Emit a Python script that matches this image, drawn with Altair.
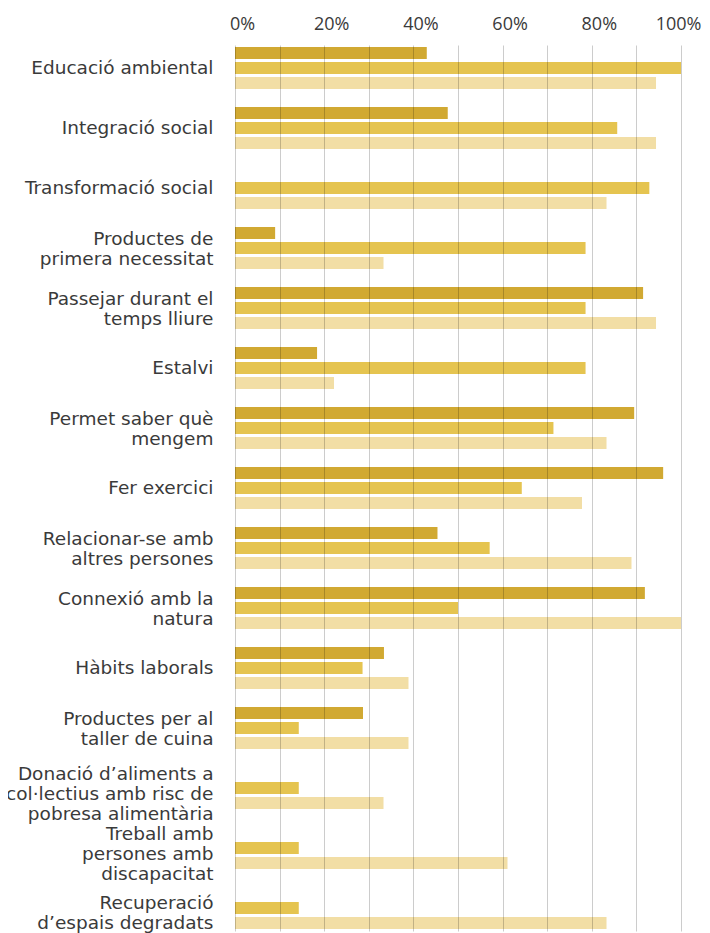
import altair as alt
import pandas as pd

categories = [
    "Educació ambiental",
    "Integració social",
    "Transformació social",
    "Productes de|primera necessitat",
    "Passejar durant el|temps lliure",
    "Estalvi",
    "Permet saber què|mengem",
    "Fer exercici",
    "Relacionar-se amb|altres persones",
    "Connexió amb la|natura",
    "Hàbits laborals",
    "Productes per al|taller de cuina",
    "Donació d’aliments a|col·lectius amb risc de|pobresa alimentària",
    "Treball amb|persones amb|discapacitat",
    "Recuperació|d’espais degradats",
]

series = ["Grup 1", "Grup 2", "Grup 3"]
colors = ["#d1a932", "#e5c450", "#f2dea5"]

values_1 = [43.0, 47.7, None, 9.0, 91.5, 18.4, 89.5, 96.0, 45.4, 91.9, 33.4, 28.7, None, None, None]
values_2 = [100.0, 85.7, 92.9, 78.6, 78.6, 78.6, 71.4, 64.3, 57.1, 50.0, 28.6, 14.3, 14.3, 14.3, 14.3]
values_3 = [94.4, 94.4, 83.3, 33.3, 94.4, 22.2, 83.3, 77.8, 88.9, 100.0, 38.9, 38.9, 33.3, 61.1, 83.3]

rows = []
for s, vals in zip(series, [values_1, values_2, values_3]):
    for c, v in zip(categories, vals):
        if v is not None:
            rows.append({"categoria": c, "serie": s, "valor": v})
df = pd.DataFrame(rows)

TICK_FONT = "Open Sans"
CAT_FONT = "DejaVu Sans"
TXT = "#3a3a3a"
LH = 20

label_offset = {
    "condition": [
        {"test": "length(split(datum.value, '|')) == 3", "value": -14},
        {"test": "indexof(datum.value, 'Recuperació') == 0", "value": -5},
        {"test": "length(split(datum.value, '|')) == 2", "value": -9},
    ],
    "value": 0,
}

tick_offset = {
    "condition": {"test": "datum.value == 100", "value": -3},
    "value": 7,
}

chart = (
    alt.Chart(df)
    .mark_bar()
    .encode(
        x=alt.X(
            "valor:Q",
            scale=alt.Scale(domain=[0, 100], nice=False),
            axis=alt.Axis(
                orient="top",
                title=None,
                values=list(range(0, 101, 10)),
                labelExpr="datum.value % 20 == 0 ? datum.value + '%' : ''",
                grid=True,
                gridColor="#000000",
                gridOpacity=0.2,
                gridWidth=1,
                ticks=False,
                tickSize=0,
                domain=False,
                labelFont=TICK_FONT,
                labelFontSize=18,
                labelColor=TXT,
                labelPadding=12,
                labelOffset=tick_offset,
                labelFlush=False,
                zindex=1,
            ),
        ),
        y=alt.Y(
            "categoria:N",
            sort=categories,
            scale=alt.Scale(paddingInner=0.3, paddingOuter=0.0333),
            axis=alt.Axis(
                title=None,
                labelExpr="split(datum.label, '|')",
                labelFont=CAT_FONT,
                labelFontSize=18.5,
                labelColor=TXT,
                labelLineHeight=LH,
                labelPadding=22,
                labelLimit=400,
                labelOffset=label_offset,
                ticks=False,
                tickSize=0,
                domain=False,
                grid=False,
            ),
        ),
        yOffset=alt.YOffset(
            "serie:N",
            sort=series,
            scale=alt.Scale(paddingInner=0.2, paddingOuter=0),
        ),
        color=alt.Color(
            "serie:N",
            scale=alt.Scale(domain=series, range=colors),
            legend=None,
        ),
    )
    .properties(
        width=446,
        height=886,
        autosize=alt.AutoSizeParams(type="none"),
        padding={"left": 227, "top": 37, "right": 21, "bottom": 8},
    )
    .configure_view(stroke=None)
)

chart.save("out.html", embed_options={"renderer": "svg", "actions": False})
